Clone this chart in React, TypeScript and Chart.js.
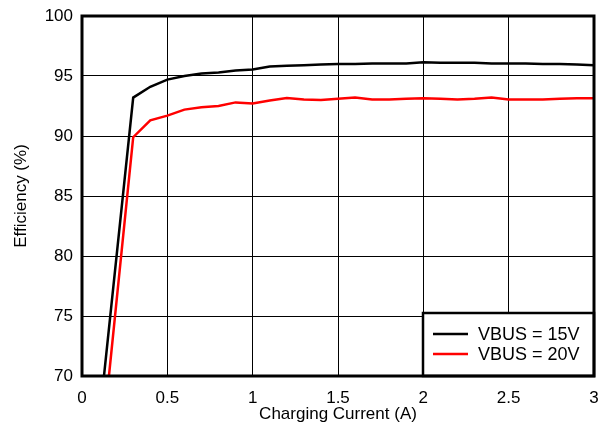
import React, { useEffect, useRef } from "react";
import { Chart, registerables } from "chart.js";

Chart.register(...registerables);

const currents = [0.1, 0.3, 0.4, 0.5, 0.6, 0.7, 0.8, 0.9, 1.0, 1.1, 1.2, 1.3, 1.4, 1.5, 1.6, 1.7, 1.8, 1.9, 2.0, 2.1, 2.2, 2.3, 2.4, 2.5, 2.6, 2.7, 2.8, 2.9, 3.0];
const eff15V = [66.1, 93.2, 94.1, 94.7, 95.0, 95.2, 95.3, 95.45, 95.55, 95.8, 95.85, 95.9, 95.95, 96.0, 96.0, 96.05, 96.05, 96.05, 96.15, 96.1, 96.1, 96.1, 96.05, 96.05, 96.05, 96.0, 96.0, 95.95, 95.9];
const eff20V = [61.9, 89.9, 91.3, 91.7, 92.2, 92.4, 92.5, 92.8, 92.7, 92.95, 93.17, 93.05, 93.0, 93.1, 93.2, 93.05, 93.05, 93.1, 93.15, 93.1, 93.05, 93.1, 93.2, 93.05, 93.05, 93.05, 93.1, 93.15, 93.15];
const seriesLabels = ["VBUS = 15V", "VBUS = 20V"];
const seriesColors = ["#000000", "#ff0000"];
const xTitle = "Charging Current (A)";
const yTitle = "Efficiency (%)";

const FONT = "'Liberation Sans', Arial, sans-serif";

const framePlugin = {
  id: "frameLegend",
  afterDraw(chart: any) {
    const { ctx, chartArea } = chart;
    const { left, top, right, bottom } = chartArea;
    ctx.save();
    const bw = 171;
    const bh = 63;
    const bx = right - bw;
    const by = bottom - bh;
    ctx.fillStyle = "#ffffff";
    ctx.fillRect(bx, by, bw, bh);
    ctx.strokeStyle = "#000000";
    ctx.lineWidth = 2.5;
    ctx.strokeRect(bx, by, bw, bh);
    chart.data.datasets.forEach((ds: any, i: number) => {
      const yy = by + 21 + i * 20;
      ctx.strokeStyle = ds.borderColor;
      ctx.lineWidth = 2.5;
      ctx.beginPath();
      ctx.moveTo(bx + 10, yy);
      ctx.lineTo(bx + 45, yy);
      ctx.stroke();
      ctx.fillStyle = "#000000";
      ctx.font = `18px ${FONT}`;
      ctx.textBaseline = "middle";
      ctx.textAlign = "left";
      ctx.fillText(ds.label, bx + 55, yy + 1);
    });
    ctx.strokeStyle = "#000000";
    ctx.lineWidth = 3;
    ctx.strokeRect(left, top, right - left, bottom - top);
    ctx.restore();
  },
};

export default function App() {
  const ref = useRef<HTMLCanvasElement | null>(null);
  useEffect(() => {
    if (!ref.current) return;
    const chart = new Chart(ref.current, {
      type: "line",
      data: {
        datasets: [
          {
            label: seriesLabels[0],
            data: currents.map((x, i) => ({ x, y: eff15V[i] })),
            borderColor: seriesColors[0],
            backgroundColor: seriesColors[0],
            borderWidth: 2.5,
            pointRadius: 0,
            tension: 0,
          },
          {
            label: seriesLabels[1],
            data: currents.map((x, i) => ({ x, y: eff20V[i] })),
            borderColor: seriesColors[1],
            backgroundColor: seriesColors[1],
            borderWidth: 2.5,
            pointRadius: 0,
            tension: 0,
          },
        ],
      },
      options: {
        animation: false,
        responsive: false,
        maintainAspectRatio: false,
        layout: { padding: { left: 0, right: 4, top: 16, bottom: 0 } },
        plugins: {
          legend: { display: false },
          tooltip: { enabled: false },
        },
        scales: {
          x: {
            type: "linear",
            min: 0,
            max: 3,
            ticks: {
              stepSize: 0.5,
              color: "#000000",
              font: { family: FONT, size: 17 },
              padding: 12,
              maxRotation: 0,
              callback: (v: any) => String(Number(v)),
            },
            grid: { color: "#000000", lineWidth: 1, drawTicks: false },
            border: { display: false },
            title: {
              display: true,
              text: xTitle,
              color: "#000000",
              font: { family: FONT, size: 17 },
              padding: { top: 0, bottom: 3 },
            },
            afterFit(scale: any) {
              scale.height = 52;
              scale.paddingLeft = 0;
              scale.paddingRight = 0;
            },
          },
          y: {
            min: 70,
            max: 100,
            ticks: {
              stepSize: 5,
              color: "#000000",
              font: { family: FONT, size: 17 },
              padding: 9,
            },
            grid: { color: "#000000", lineWidth: 1, drawTicks: false },
            border: { display: false },
            title: {
              display: true,
              text: yTitle,
              color: "#000000",
              font: { family: FONT, size: 17 },
              padding: { top: 11, bottom: 0 },
            },
            afterFit(scale: any) {
              scale.width = 82;
              scale.paddingTop = 0;
              scale.paddingBottom = 0;
            },
          },
        },
      },
      plugins: [framePlugin],
    });
    return () => chart.destroy();
  }, []);
  return (
    <div style={{ position: "fixed", left: 0, top: 0, width: 598, height: 428, background: "#fff" }}>
      <canvas ref={ref} width={598} height={428} style={{ width: 598, height: 428 }} />
    </div>
  );
}
